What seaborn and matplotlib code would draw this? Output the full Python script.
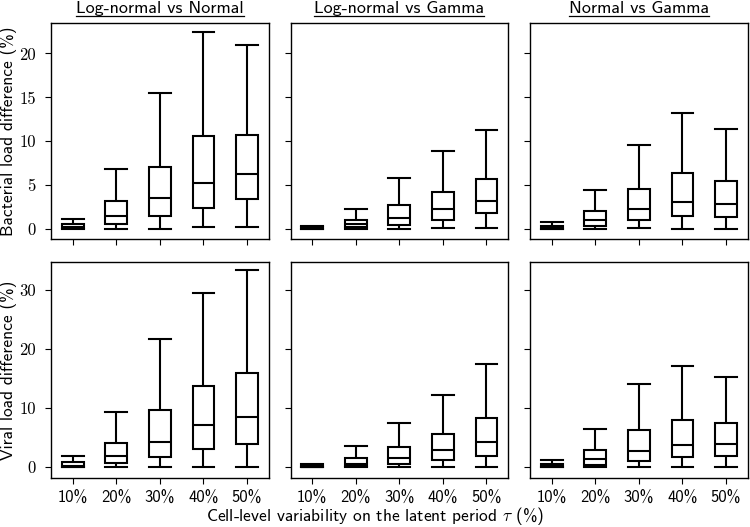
import matplotlib
matplotlib.use('Agg')
import matplotlib.pyplot as plt
import numpy as np
import pandas as pd
import seaborn as sns
from matplotlib.lines import Line2D

# five-number summaries per box: [min, q1, median, q3, max]
levels = ["10%", "20%", "30%", "40%", "50%"]
comparisons = ["Log-normal vs Normal", "Log-normal vs Gamma", "Normal vs Gamma"]
quantities = ["Bacterial load difference (%)", "Viral load difference (%)"]

bact_ln_n = [[0.0, 0.08, 0.3, 0.57, 1.2],
             [0.0, 0.6, 1.5, 3.2, 6.9],
             [0.05, 1.5, 3.55, 7.1, 15.5],
             [0.2, 2.4, 5.2, 10.65, 22.4],
             [0.3, 3.4, 6.3, 10.75, 21.0]]
bact_ln_g = [[0.0, 0.03, 0.1, 0.2, 0.42],
             [0.0, 0.2, 0.6, 1.1, 2.27],
             [0.05, 0.53, 1.3, 2.8, 5.87],
             [0.1, 1.1, 2.35, 4.28, 8.87],
             [0.1, 1.82, 3.26, 5.76, 11.25]]
bact_n_g = [[0.0, 0.03, 0.15, 0.35, 0.8],
            [0.0, 0.42, 1.07, 2.12, 4.47],
            [0.1, 1.02, 2.27, 4.55, 9.62],
            [0.07, 1.48, 3.1, 6.36, 13.26],
            [0.07, 1.37, 2.85, 5.45, 11.4]]
vir_ln_n = [[0.0, 0.05, 0.23, 0.9, 1.92],
            [0.0, 0.68, 1.92, 4.17, 9.36],
            [0.0, 1.75, 4.23, 9.76, 21.7],
            [0.0, 3.05, 7.1, 13.7, 29.4],
            [0.0, 4.0, 8.57, 15.9, 33.3]]
vir_ln_g = [[0.0, 0.0, 0.1, 0.28, 0.62],
            [0.0, 0.17, 0.56, 1.64, 3.67],
            [0.0, 0.62, 1.64, 3.44, 7.56],
            [0.0, 1.3, 2.99, 5.7, 12.2],
            [0.0, 1.97, 4.29, 8.3, 17.4]]
vir_n_g = [[0.0, 0.0, 0.2, 0.5, 1.24],
           [0.0, 0.4, 1.35, 2.93, 6.54],
           [0.0, 1.13, 2.82, 6.3, 14.0],
           [0.0, 1.69, 3.84, 7.95, 17.1],
           [0.0, 1.86, 4.0, 7.45, 15.3]]

panels = [[bact_ln_n, bact_ln_g, bact_n_g], [vir_ln_n, vir_ln_g, vir_n_g]]
yticks = [[0, 5, 10, 15, 20], [0, 10, 20, 30]]
ylims = [(-1.1, 23.5), (-1.8, 34.7)]

plt.rcParams['font.family'] = ['cmss10', 'DejaVu Sans']
plt.rcParams['mathtext.fontset'] = 'cm'
plt.rcParams['axes.unicode_minus'] = False
plt.rcParams['axes.formatter.use_mathtext'] = True

fig, axs = plt.subplots(2, 3, figsize=(7.5, 5.27), dpi=100, sharey='row')
fig.subplots_adjust(left=0.068, right=0.997, top=0.957, bottom=0.093, wspace=0.1, hspace=0.106)

for r in range(2):
    for c in range(3):
        ax = axs[r][c]
        rows = []
        for lev, stats in zip(levels, panels[r][c]):
            for v in stats:
                rows.append({'level': lev, 'value': v})
        df = pd.DataFrame(rows)
        sns.boxplot(data=df, x='level', y='value', order=levels, ax=ax, whis=(0, 100),
                    color='white', linecolor='black', linewidth=1.5, width=0.5, capwidths=0.5)
        ax.set_xlim(-0.5, 4.5)
        ax.set_ylim(*ylims[r])
        ax.set_yticks(yticks[r])
        ax.set_xlabel("")
        ax.set_ylabel("")
        for sp in ax.spines.values():
            sp.set_linewidth(1.0)
        ax.tick_params(axis='x', labelsize=12, length=4, width=0.8, pad=5)
        ax.tick_params(axis='y', length=4, width=0.8, pad=7)
        if r == 0:
            ax.set_title(comparisons[c], fontsize=13, pad=7)
            ax.tick_params(axis='x', labelbottom=False)
        if c == 0:
            ax.set_ylabel(quantities[r], fontsize=12.5)
            ax.yaxis.set_label_coords(-0.158, 0.5)
            ax.set_yticklabels([str(t) for t in yticks[r]], fontfamily='cmr10', fontsize=12)

fig.supxlabel(r"Cell-level variability on the latent period $\tau$ (%)", fontsize=12.5, y=0.0)

# underline the column titles
fig.canvas.draw()
renderer = fig.canvas.get_renderer()
for c in range(3):
    bb = axs[0][c].title.get_window_extent(renderer).transformed(fig.transFigure.inverted())
    y = bb.y0 - 0.001
    fig.add_artist(Line2D([bb.x0, bb.x1], [y, y], transform=fig.transFigure, color='black', lw=0.9))

plt.savefig("out.png", dpi=100)
